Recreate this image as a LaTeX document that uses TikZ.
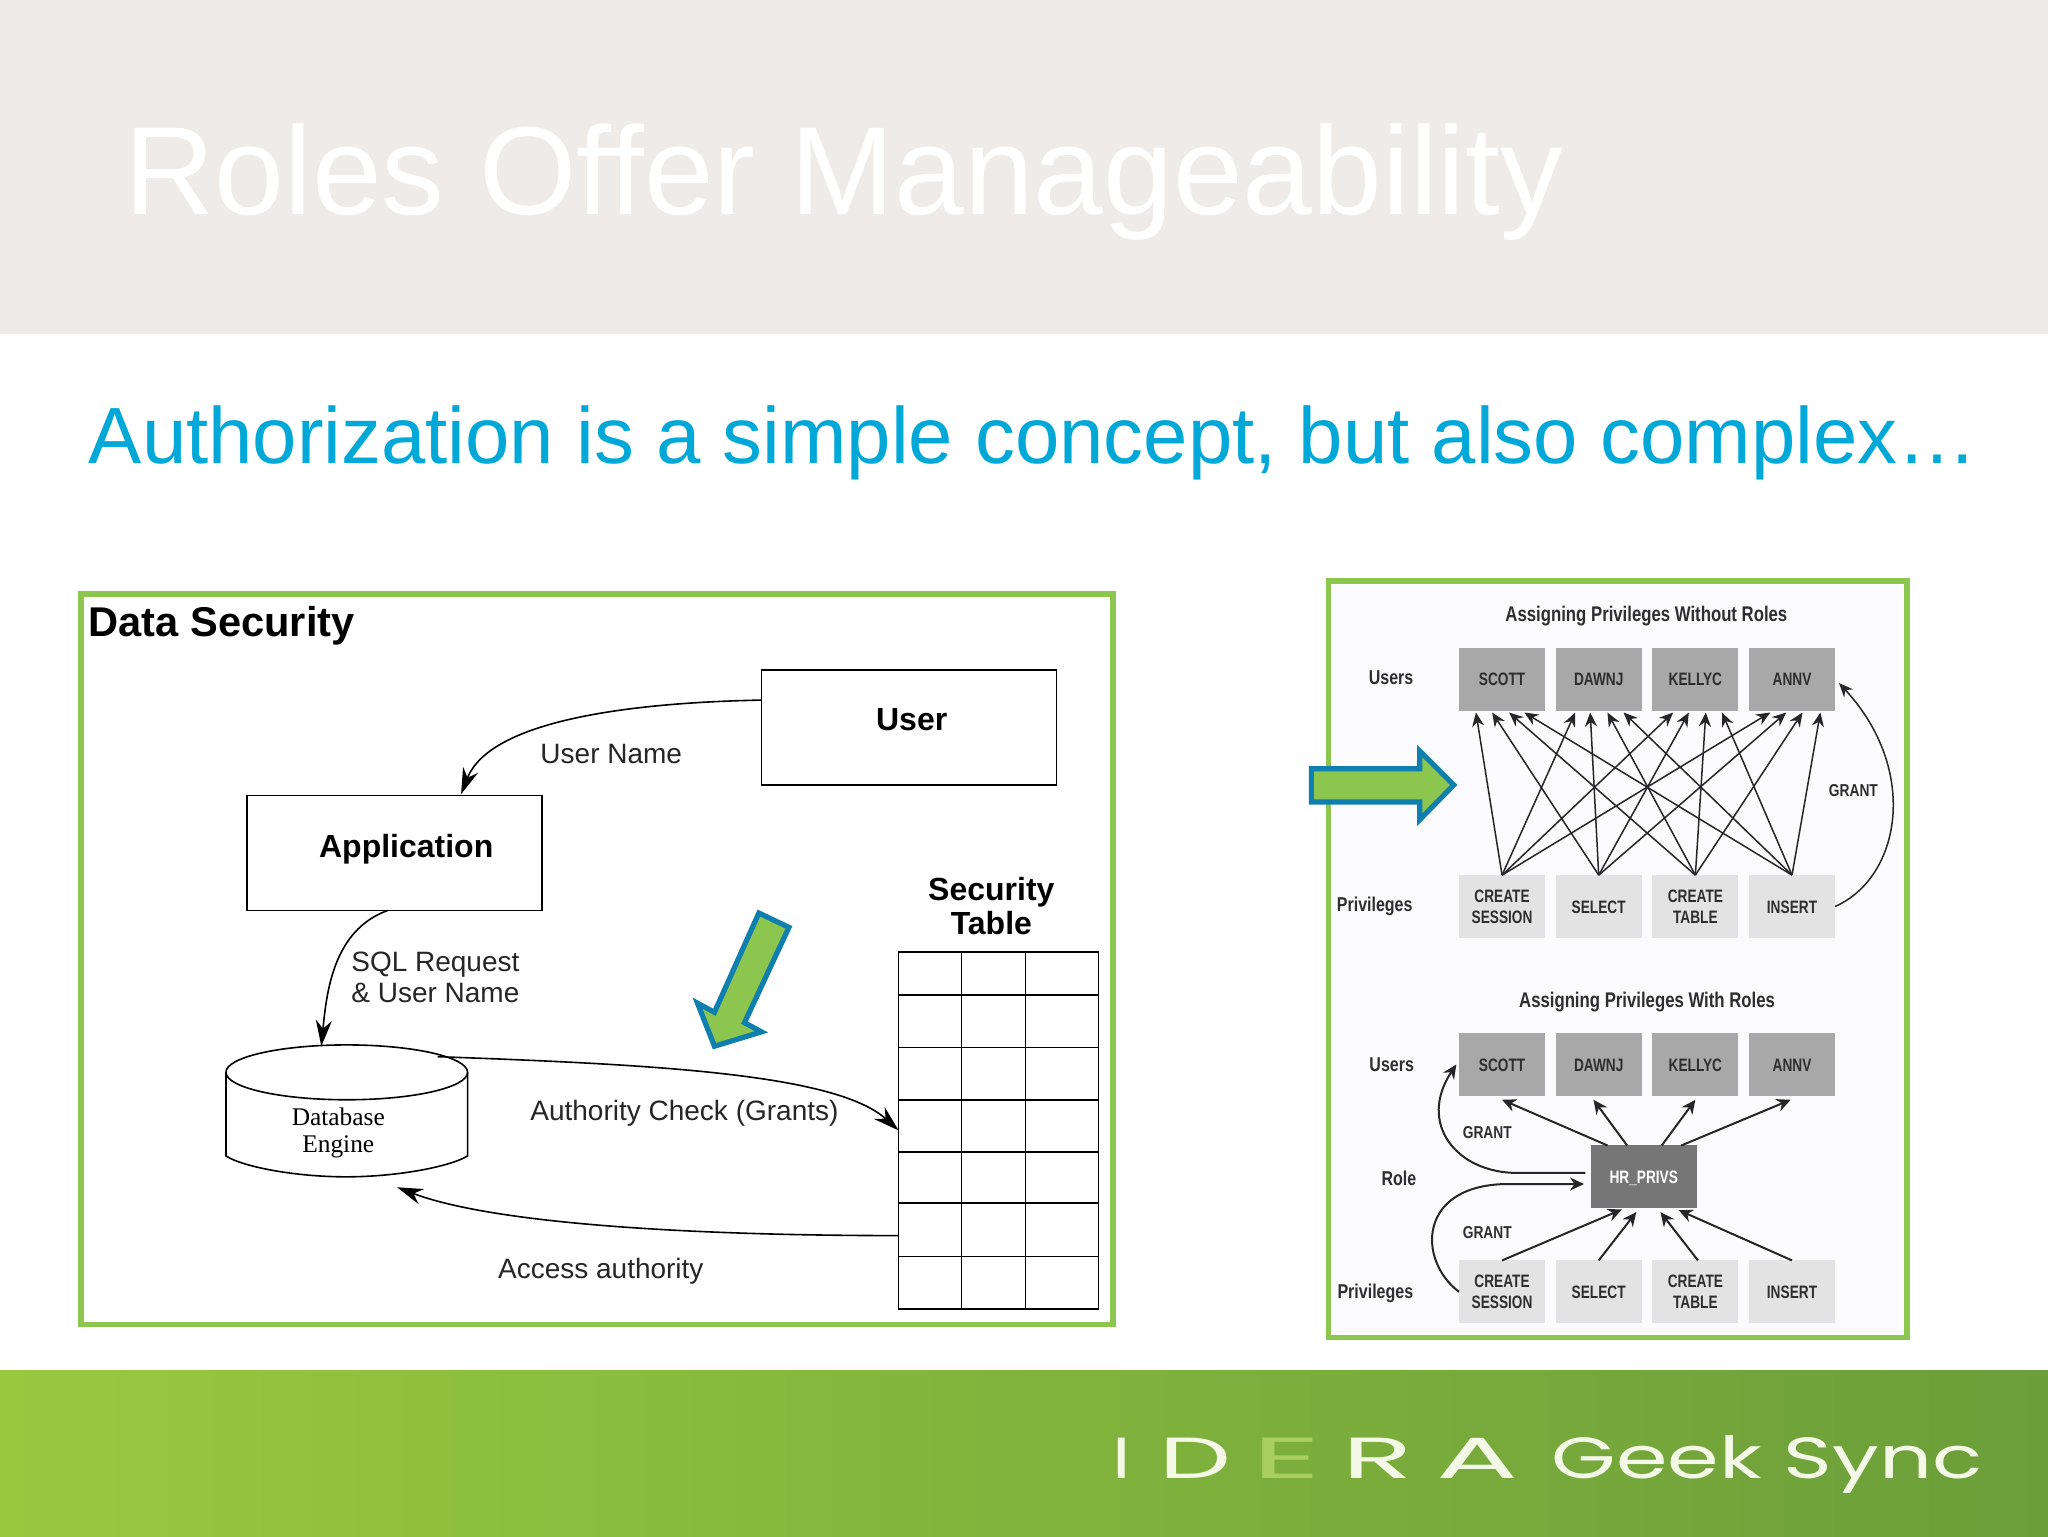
\documentclass[tikz,border=0pt]{standalone}
\usepackage{fontspec}
\usepackage{graphicx}
\setmainfont{Liberation Sans}
\newfontfamily\serf{Liberation Serif}
\newfontfamily\logofont{Poppins}
\usetikzlibrary{arrows.meta,calc}
\definecolor{hdr}{HTML}{EEEBE9}
\definecolor{sub}{HTML}{00A8D8}
\definecolor{frm}{HTML}{8DC64E}
\definecolor{arb}{HTML}{0E7FAE}
\definecolor{ubox}{HTML}{A8A8A8}
\definecolor{pbox}{HTML}{E3E3E3}
\definecolor{rbox}{HTML}{767676}
\definecolor{txt}{HTML}{2E2E2E}
\definecolor{fl}{HTML}{97C93F}
\definecolor{fr}{HTML}{6C9E3A}
\definecolor{panel}{HTML}{FBFBFD}
\definecolor{logoe}{HTML}{A9D05F}
\definecolor{logot}{HTML}{F4F8E6}
\newcommand{\nrw}[1]{\raisebox{-1.2pt}[\height][\depth]{\scalebox{.76}[1]{\begin{tabular}{@{}c@{}}#1\end{tabular}}}}
\newcommand{\logow}[2]{\scalebox{#1}[1]{#2}}
\def\uu{0.65306}
\tikzset{
  frame/.style={draw=frm,line width=2.8pt},
  blockarrow/.style={draw=arb,fill=frm,line width=2.6pt,miter limit=6},
  plain/.style={inner sep=0pt,outer sep=0pt},
  dlabel/.style={plain,font=\fontsize{14}{17}\selectfont,text=black!85,align=left},
  dbold/.style={plain,font=\fontsize{16}{17}\selectfont\bfseries,align=center},
  bigbox/.style={draw,line width=.8pt,plain,minimum width=226*\uu pt,minimum height=88*\uu pt},
  flow/.style={-{Stealth[length=13pt,width=8pt]},line width=.8pt},
  gbox/.style={plain,minimum width=66*\uu pt,minimum height=48*\uu pt,font=\fontsize{9}{10.5}\selectfont\bfseries,text=txt,align=center},
  ubx/.style={gbox,fill=ubox},
  pbx/.style={gbox,fill=pbox},
  glabel/.style={plain,font=\fontsize{10}{12}\selectfont\bfseries,text=txt},
  thin arrow/.style={-{Stealth[length=7pt,width=6pt]},line width=.75pt,draw=black!85},
  med arrow/.style={-{Stealth[length=7pt,width=6.5pt]},line width=1pt,draw=black!85}
}
\begin{document}
\begin{tikzpicture}[x=\uu pt,y=-\uu pt]
\useasboundingbox (0,0) rectangle (1568,1176);
\fill[white] (0,0) rectangle (1568,1176);
% header and footer
\fill[hdr] (0,0) rectangle (1568,256);
\shade[left color=fl,right color=fr] (0,1049) rectangle (1568,1176);
\node[plain,anchor=base west,text=white,font=\fontsize{62.65}{70}\selectfont] (title) at (95,164) {Roles Offer Manageability};
\node[plain,anchor=base west,text=sub,font=\fontsize{39.88}{46}\selectfont] (subtitle) at (68,355) {Authorization is a simple concept, but also complex…};
% logo
\tikzset{logo/.style={plain,anchor=base,text=logot,font=\fontsize{29}{32}\logofont\selectfont}}
\node[logo] (l1) at (859,1132) {\logow{1.3}{I}};
\node[logo] (l2) at (915,1132) {\logow{1.75}{D}};
\node[logo,text=logoe] (l3) at (985,1132) {\logow{2.3}{E}};
\node[logo] (l4) at (1055,1132) {\logow{2}{R}};
\node[logo] (l5) at (1131,1132) {\logow{2.1}{A}};
\node[logo] (l6) at (1353,1132) {\logow{1.43}{Geek Sync}};
% left panel
\draw[frame,fill=white] (62,455) rectangle (852,1014);
\node[plain,anchor=base west,font=\fontsize{20.8}{24}\selectfont\bfseries] (ds) at (68,487) {Data Security};
\node[bigbox] (user) at (696,557) {};
\node[plain,font=\fontsize{16}{18}\selectfont\bfseries] (usert) at (698,551) {User};
\node[bigbox] (app) at (302,653) {};
\node[plain,font=\fontsize{16}{18}\selectfont\bfseries] (appt) at (311,650) {Application};
\node[dlabel] (un) at (468,577) {User Name};
\node[dlabel,anchor=west] (sql) at (269,748.5) {SQL Request\\[-1.4pt]\& User Name};
\node[dlabel] (auth) at (524,852) {Authority Check (Grants)};
\node[dlabel] (acc) at (460,973) {Access authority};
\node[dbold] (sect) at (759,693.5) {Security\\Table};
% database
\draw[line width=.8pt] (173,821) -- (173,885) .. controls (185,893) and (225,901) .. (265,901) .. controls (305,901) and (345,893) .. (358,885) -- (358,821);
\draw[line width=.8pt] (265.5,821) ellipse [x radius=92.5,y radius=21];
\node[plain,font=\fontsize{12.7}{13.6}\serf\selectfont,align=center] (db) at (259,867.5) {Database\\Engine};
% security table
\node[draw,line width=.8pt,plain,minimum width=153*\uu pt,minimum height=273*\uu pt] (tbl) at (764.5,865.5) {};
\foreach \gx in {736,785} \draw[line width=.8pt] (\gx,729) -- (\gx,1002);
\foreach \gy in {762,802,842,882,921,962} \draw[line width=.8pt] (688,\gy) -- (841,\gy);
\coordinate (usrout) at (user.west |- 0,536);
\coordinate (appin) at (353,608);
\coordinate (appout) at (297,697);
\coordinate (dbin) at (246,801);
\coordinate (dbout) at (335,809);
\coordinate (tblout) at (tbl.west |- 0,946);
\coordinate (dbback) at (304,909);
\draw[flow] (usrout) .. controls (480,538) and (375,552) .. (appin);
\draw[flow] (appout) .. controls (255,712) and (250,760) .. (dbin);
\draw[flow] (dbout) .. controls (500,815) and (640,822) .. (tbl.west);
\draw[flow] (tblout) .. controls (540,946) and (380,938) .. (dbback);
% blue-green arrow in left panel
\draw[blockarrow] (581,699) -- (604,710) -- (570,783) -- (583,790) -- (547,801) -- (534,768) -- (547,775) -- cycle;
% right panel
\draw[frame,fill=panel] (1017,445) rectangle (1460,1024);
\node[glabel,font=\fontsize{10.6}{12}\selectfont\bfseries] (t1) at (1260.5,471.5) {\scalebox{.79}[1]{Assigning Privileges Without Roles}};
\node[glabel,font=\fontsize{10.6}{12}\selectfont\bfseries] (t2) at (1261,767.5) {\scalebox{.79}[1]{Assigning Privileges With Roles}};
\node[glabel] (lu1) at (1065,519) {\scalebox{.8}[1]{Users}};
\node[glabel] (lp1) at (1052.5,694) {\scalebox{.8}[1]{Privileges}};
\node[glabel] (lu2) at (1065.5,815) {\scalebox{.8}[1]{Users}};
\node[glabel] (lr2) at (1071,902) {\scalebox{.8}[1]{Role}};
\node[glabel] (lp2) at (1053,990) {\scalebox{.8}[1]{Privileges}};
% top diagram
\node[ubx] (ua1) at (1150,520) {\nrw{SCOTT}};
\node[ubx] (ua2) at (1224,520) {\nrw{DAWNJ}};
\node[ubx] (ua3) at (1298,520) {\nrw{KELLYC}};
\node[ubx] (ua4) at (1372,520) {\nrw{ANNV}};
\node[pbx] (pa1) at (1150,694) {\nrw{CREATE\\SESSION}};
\node[pbx] (pa2) at (1224,694) {\nrw{SELECT}};
\node[pbx] (pa3) at (1298,694) {\nrw{CREATE\\TABLE}};
\node[pbx] (pa4) at (1372,694) {\nrw{INSERT}};
\foreach \j/\oa/\ob/\oc/\od in {1/13/25.4/38.4/50,2/15/26.5/39.7/52,3/16/28/41/53.4,4/16.3/28.6/41/54.7}{
  \draw[thin arrow] (pa1.north) -- ($(ua\j.south west)+(\oa,1.5)$);
  \draw[thin arrow] (pa2.north) -- ($(ua\j.south west)+(\ob,1.5)$);
  \draw[thin arrow] (pa3.north) -- ($(ua\j.south west)+(\oc,1.5)$);
  \draw[thin arrow] (pa4.north) -- ($(ua\j.south west)+(\od,1.5)$);
}
\node[glabel,font=\fontsize{8.6}{10}\selectfont\bfseries] (ga) at (1419,605) {\scalebox{.8}[1]{GRANT}};
\draw[thin arrow] (pa4.east) .. controls (1455,672) and (1470,590) .. ($(ua4.east)+(3,3)$);
% bottom diagram
\node[ubx] (ub1) at (1150,815) {\nrw{SCOTT}};
\node[ubx] (ub2) at (1224,815) {\nrw{DAWNJ}};
\node[ubx] (ub3) at (1298,815) {\nrw{KELLYC}};
\node[ubx] (ub4) at (1372,815) {\nrw{ANNV}};
\node[pbx] (pb1) at (1150,989) {\nrw{CREATE\\SESSION}};
\node[pbx] (pb2) at (1224,989) {\nrw{SELECT}};
\node[pbx] (pb3) at (1298,989) {\nrw{CREATE\\TABLE}};
\node[pbx] (pb4) at (1372,989) {\nrw{INSERT}};
\node[gbox,fill=rbox,text=white,minimum width=81.5*\uu pt] (hr) at (1258.5,901) {\nrw{HR\_PRIVS}};
\draw[med arrow] ($(hr.north west)+(13,0)$) -- ($(ub1.south)+(0,3)$);
\draw[med arrow] ($(hr.north west)+(28,0)$) -- ($(ub2.south)+(-4,3)$);
\draw[med arrow] ($(hr.north east)+(-27,0)$) -- ($(ub3.south)+(0,3)$);
\draw[med arrow] ($(hr.north east)+(-12,0)$) -- ($(ub4.south)+(-1,3)$);
\draw[med arrow] (pb1.north) -- ($(hr.south west)+(24,1)$);
\draw[med arrow] (pb2.north) -- ($(hr.south west)+(35,3)$);
\draw[med arrow] ($(pb3.north)+(2,0)$) -- ($(hr.south east)+(-28,3)$);
\draw[med arrow] (pb4.north) -- ($(hr.south east)+(-14,1.5)$);
\coordinate (hrw1) at ($(hr.west)+(-4,-3)$);
\coordinate (hrw2) at ($(hr.west)+(-5,5.5)$);
\draw[med arrow] (hrw1) -- (1161.5,898) .. controls (1115,898) and (1085,860) .. ($(ub1.west)+(-2,0)$);
\draw[med arrow] (pb1.west) .. controls (1085,965) and (1085,906.5) .. (1155,906.5) -- (hrw2);
\node[glabel,font=\fontsize{8.6}{10}\selectfont\bfseries] (gb1) at (1138.7,867) {\scalebox{.8}[1]{GRANT}};
\node[glabel,font=\fontsize{8.6}{10}\selectfont\bfseries] (gb2) at (1138.7,944) {\scalebox{.8}[1]{GRANT}};
% blue-green arrow in right panel
\draw[blockarrow] (1004,588.5) -- (1087,588.5) -- (1087,575) -- (1113,601) -- (1087,627.5) -- (1087,614) -- (1004,614) -- cycle;
\end{tikzpicture}
\end{document}
